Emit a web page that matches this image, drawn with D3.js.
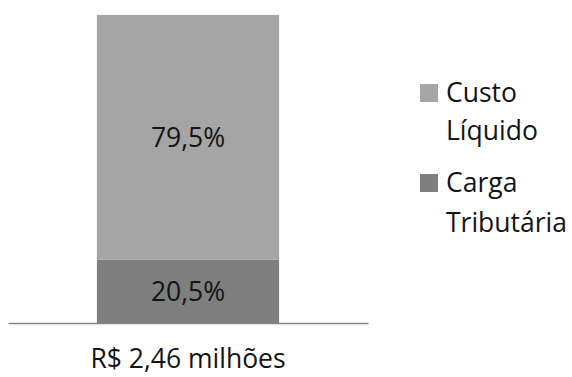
<!DOCTYPE html>
<html>
<head>
<meta charset="utf-8">
<script src="https://cdn.jsdelivr.net/npm/d3@7"></script>
<style>
  html, body { margin: 0; padding: 0; background: #fff; }
  svg { display: block; }
  text { font-family: "Open Sans", "Noto Sans", sans-serif; fill: #141414; }
</style>
</head>
<body>
<svg id="chart" width="572" height="377"></svg>
<script>
// Composition of the total cost (percent of R$ 2,46 milhões)
const categories = ["R$ 2,46 milhões"];
const seriesNames = ["Carga Tributária", "Custo Líquido"];   // stacked bottom → top
const cargaTributaria = [20.5];
const custoLiquido = [79.5];
const legendOrder = [
  { key: "Custo Líquido", lines: ["Custo", "Líquido"] },
  { key: "Carga Tributária", lines: ["Carga", "Tributária"] }
];

const colors = { "Custo Líquido": "#a5a5a5", "Carga Tributária": "#7f7f7f" };

const svg = d3.select("#chart");
const fontSize = 26.5;

const rows = categories.map((c, i) => ({
  category: c,
  "Carga Tributária": cargaTributaria[i],
  "Custo Líquido": custoLiquido[i]
}));

const x = d3.scaleBand()
  .domain(categories)
  .range([8, 368])
  .paddingInner(0.328)
  .paddingOuter(0.328);

const y = d3.scaleLinear()
  .domain([0, 100])
  .range([323, 15]);

const stacked = d3.stack().keys(seriesNames)(rows);

const layers = svg.append("g")
  .selectAll("g")
  .data(stacked)
  .join("g")
  .attr("fill", d => colors[d.key]);

layers.selectAll("rect")
  .data(d => d.map(v => ({ v, key: d.key })))
  .join("rect")
  .attr("x", d => x(d.v.data.category))
  .attr("width", x.bandwidth())
  .attr("y", d => y(d.v[1]))
  .attr("height", d => y(d.v[0]) - y(d.v[1]));

// value labels centred in each segment
layers.selectAll("text")
  .data(d => d.map(v => ({ v, key: d.key })))
  .join("text")
  .attr("x", d => x(d.v.data.category) + x.bandwidth() / 2)
  .attr("y", d => (y(d.v[0]) + y(d.v[1])) / 2)
  .attr("dy", "0.36em")
  .attr("text-anchor", "middle")
  .style("font-size", fontSize + "px")
  .text(d => (d.v[1] - d.v[0]).toFixed(1).replace(".", ",") + "%");

// category axis
const axis = svg.append("g")
  .attr("transform", `translate(0,${y(0)})`)
  .call(d3.axisBottom(x).tickSize(0).tickPadding(26));
axis.select(".domain").attr("stroke", "#8a8480").attr("stroke-width", 1.3);
axis.selectAll(".tick text")
  .style("font-size", fontSize + "px")
  .style("font-family", "\"Open Sans\", sans-serif")
  .attr("fill", "#141414");

// legend
const legend = svg.append("g").attr("transform", "translate(420,0)");
const legendBaselines = [[102, 140], [192, 232]];
legendOrder.forEach((item, i) => {
  const g = legend.append("g");
  g.append("rect")
    .attr("x", 0)
    .attr("y", legendBaselines[i][0] - 18)
    .attr("width", 18)
    .attr("height", 18)
    .attr("fill", colors[item.key]);
  item.lines.forEach((line, j) => {
    g.append("text")
      .attr("x", 26)
      .attr("y", legendBaselines[i][j])
      .style("font-size", fontSize + "px")
      .text(line);
  });
});
</script>
</body>
</html>
